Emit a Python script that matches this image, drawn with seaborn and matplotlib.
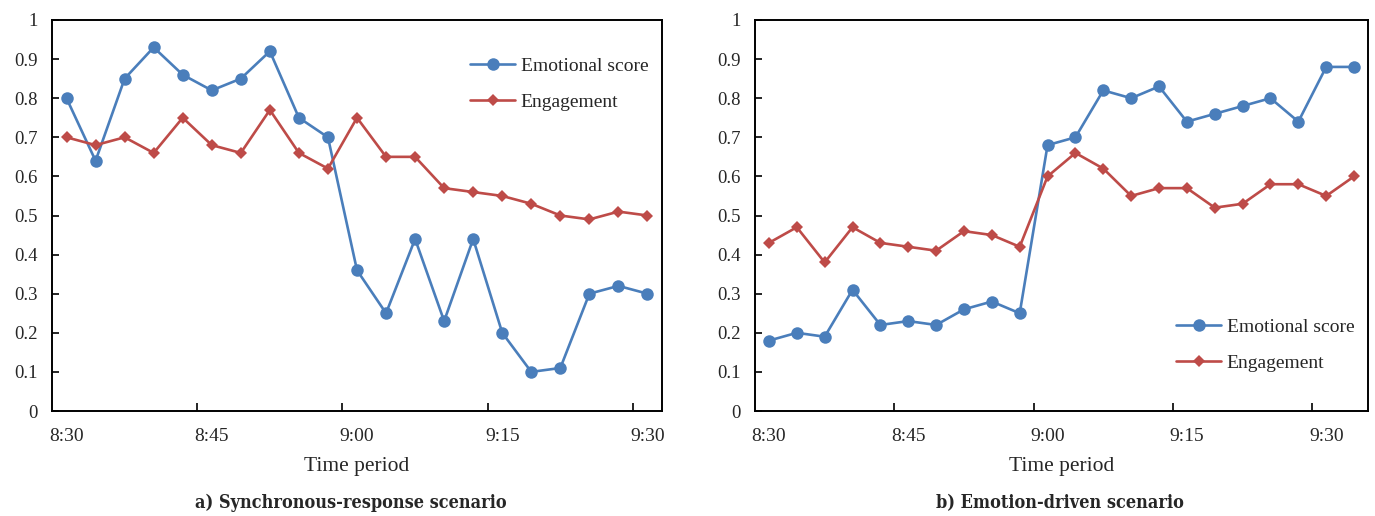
import numpy as np
import matplotlib
matplotlib.use('Agg')
import matplotlib.pyplot as plt
import seaborn as sns

# ---- data ----
times_a = ['8:30', '8:33', '8:36', '8:39', '8:42', '8:45', '8:48', '8:51', '8:54', '8:57',
           '9:00', '9:03', '9:06', '9:09', '9:12', '9:15', '9:18', '9:21', '9:24', '9:27', '9:30']
emotion_a = [0.80, 0.64, 0.85, 0.93, 0.86, 0.82, 0.85, 0.92, 0.75, 0.70,
             0.36, 0.25, 0.44, 0.23, 0.44, 0.20, 0.10, 0.11, 0.30, 0.32, 0.30]
engage_a = [0.70, 0.68, 0.70, 0.66, 0.75, 0.68, 0.66, 0.77, 0.66, 0.62,
            0.75, 0.65, 0.65, 0.57, 0.56, 0.55, 0.53, 0.50, 0.49, 0.51, 0.50]

times_b = times_a + ['9:33']
emotion_b = [0.18, 0.20, 0.19, 0.31, 0.22, 0.23, 0.22, 0.26, 0.28, 0.25, 0.68,
             0.70, 0.82, 0.80, 0.83, 0.74, 0.76, 0.78, 0.80, 0.74, 0.88, 0.88]
engage_b = [0.43, 0.47, 0.38, 0.47, 0.43, 0.42, 0.41, 0.46, 0.45, 0.42, 0.60,
            0.66, 0.62, 0.55, 0.57, 0.57, 0.52, 0.53, 0.58, 0.58, 0.55, 0.60]

panel_titles = ['a) Synchronous-response scenario', 'b) Emotion-driven scenario']
yticks = [0, 0.1, 0.2, 0.3, 0.4, 0.5, 0.6, 0.7, 0.8, 0.9, 1]
ytick_labels = ['0', '0.1', '0.2', '0.3', '0.4', '0.5', '0.6', '0.7', '0.8', '0.9', '1']

BLUE = '#4A7EBB'
RED = '#BE4B48'

sns.set_style('white')
plt.rcParams['font.family'] = ['Liberation Serif', 'DejaVu Serif']

fig = plt.figure(figsize=(13.75, 5.16), dpi=100)
ax_a = fig.add_axes([52 / 1375, 1 - 411 / 516, 610 / 1375, 391 / 516])
ax_b = fig.add_axes([755 / 1375, 1 - 411 / 516, 613 / 1375, 391 / 516])

panels = [(ax_a, times_a, emotion_a, engage_a, 'upper right', (1.0, 0.94)),
          (ax_b, times_b, emotion_b, engage_b, 'lower right', (1.0, 0.065))]

for ax, times, emo, eng, loc, anchor in panels:
    idx = np.arange(len(times))
    sns.lineplot(x=idx, y=emo, ax=ax, color=BLUE, lw=1.9, marker='o', ms=9,
                 markeredgewidth=0, label='Emotional score')
    sns.lineplot(x=idx, y=eng, ax=ax, color=RED, lw=1.9, marker='D', ms=6.5,
                 markeredgewidth=0, label='Engagement')

    ax.set_xlim(-0.5, len(times) - 0.5)
    ax.set_ylim(0, 1)
    ax.set_yticks(yticks)
    ax.set_yticklabels(ytick_labels)

    # labels every 5 categories, tick marks between categories
    ax.set_xticks(idx[::5])
    ax.set_xticklabels([times[i] for i in idx[::5]])
    ax.set_xticks(idx[4:-1:5] + 0.5, minor=True)
    ax.tick_params(axis='x', which='major', length=0, pad=12, labelsize=14)
    ax.tick_params(axis='x', which='minor', direction='in', length=6, width=1.2,
                   bottom=True, color='black')
    ax.tick_params(axis='y', direction='in', length=5, width=1.2, left=True,
                   pad=10, labelsize=13.5, color='black')

    for s in ax.spines.values():
        s.set_visible(True)
        s.set_color('black')
        s.set_linewidth(1.4)

    ax.set_xlabel('Time period', fontsize=15.5, labelpad=9)
    ax.set_ylabel('')
    ax.legend(loc=loc, bbox_to_anchor=anchor, frameon=False, fontsize=14,
              handlelength=2.3, handletextpad=0.3, labelspacing=0.95,
              borderaxespad=0.3)

centers = [351, 1060]
for cx, title in zip(centers, panel_titles):
    fig.text(cx / 1375, 1 - 503 / 516, title, ha='center', va='center',
             fontsize=13, fontweight='bold', fontstretch='condensed',
             family=['DejaVu Serif', 'Liberation Serif'])

fig.savefig('out.png', dpi=100)
